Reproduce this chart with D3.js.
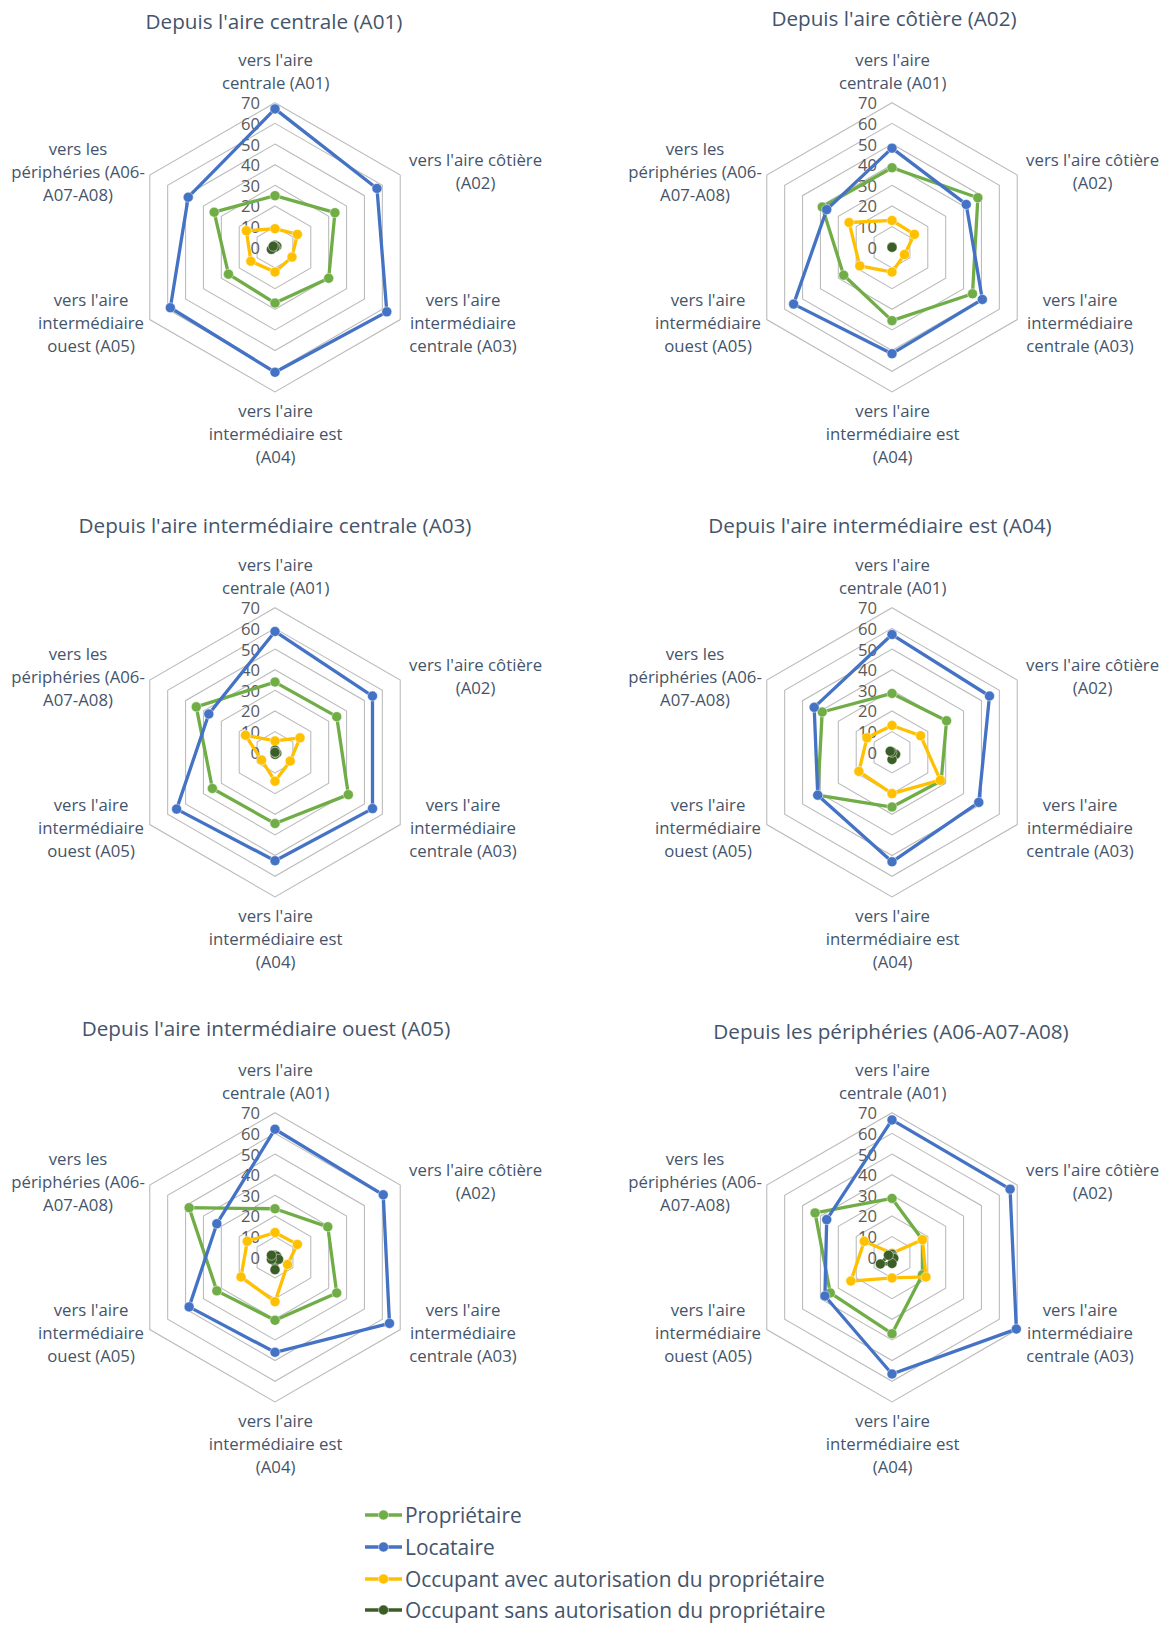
<!DOCTYPE html>
<html><head><meta charset="utf-8">
<script src="https://cdn.jsdelivr.net/npm/d3@7"></script>
<style>body{margin:0;background:#fff}svg{display:block}</style>
</head><body>
<svg id="chart" width="1173" height="1625"></svg>
<script>
// ---------- DATA ----------
const chartTitles = [
  "Depuis l'aire centrale (A01)",
  "Depuis l'aire côtière (A02)",
  "Depuis l'aire intermédiaire centrale (A03)",
  "Depuis l'aire intermédiaire est (A04)",
  "Depuis l'aire intermédiaire ouest (A05)",
  "Depuis les périphéries (A06-A07-A08)"
];
const axisLabels = [
  ["vers l'aire", "centrale (A01)"],
  ["vers l'aire côtière", "(A02)"],
  ["vers l'aire", "intermédiaire", "centrale (A03)"],
  ["vers l'aire", "intermédiaire est", "(A04)"],
  ["vers l'aire", "intermédiaire", "ouest (A05)"],
  ["vers les", "périphéries (A06-", "A07-A08)"]
];
const seriesNames = [
  "Propriétaire",
  "Locataire",
  "Occupant avec autorisation du propriétaire",
  "Occupant sans autorisation du propriétaire"
];
const tickValues = [0, 10, 20, 30, 40, 50, 60, 70];

// values per chart, axes order A01..A06
const proprietaire = [
  [25, 33.5, 30, 27, 26, 34],
  [38.5, 48, 45, 35.5, 27, 39],
  [34, 34.5, 41, 34.5, 35, 44],
  [28.5, 30.5, 27.5, 26.5, 41.5, 39],
  [23.5, 29.5, 34.5, 30.5, 32.5, 48],
  [28.5, 17, 17, 37, 34.5, 43]
];
const locataire = [
  [67, 57, 62.5, 60.5, 58.5, 48.5],
  [48, 41.5, 50.5, 51.5, 55, 36.5],
  [58.5, 54.5, 54.5, 52.5, 55, 37],
  [57, 54.5, 48.5, 53, 41.5, 43.5],
  [62, 60.5, 64, 46, 48, 32.5],
  [66.5, 66, 69.5, 56.5, 37.5, 36.5]
];
const occupantAvec = [
  [9, 12.5, 9.5, 12, 13.5, 16],
  [13, 12.5, 7, 12, 18, 24],
  [5.5, 14, 8.5, 14, 7.5, 16.5],
  [13, 16, 27, 20, 18.5, 14],
  [12, 12.5, 7, 21.5, 19, 15.5],
  [2, 17, 19, 10, 23, 15.5]
];
const occupantSans = [
  [1, 1, 0, 0, 2, 1],
  [0, 0, 0, 0, 0, 0],
  [1, 0, 1, 1, 0, 0],
  [0, 0, 2, 3.5, 0, 1],
  [1, 1, 2, 6, 2, 2],
  [1.5, 0.5, 1, 3, 6.5, 2]
];

// ---------- LAYOUT / STYLE ----------
const seriesColors = ["#70ad47", "#4472c4", "#ffc000", "#3a5e26"];
const allSeries = [proprietaire, locataire, occupantAvec, occupantSans];
const centers = [[275, 247.3], [892, 247.3], [275, 752.3], [892, 752.3], [275, 1257.3], [892, 1257.3]];
const titleOffsets = [[-1, -226.6], [2, -229.7], [0, -227], [-12, -227], [-9, -229], [-1, -226]];
// label block first-line centre offsets (dx, dy)
const labelOffsets = [[0.6, -188.3], [200.6, -87.7], [188, 52.2], [0.6, 163.7], [-184, 52.2], [-197, -99.3]];
const lineH = 23;
const R = 144.6;
const font = "'Open Sans', 'Noto Sans', sans-serif";
const textColor = "#44546a";

const svg = d3.select("#chart");

function fitSize(text, target) {
  const t = svg.append("text").attr("font-family", font).attr("font-size", 100).text(text);
  const w = t.node().getComputedTextLength();
  t.remove();
  return 100 * target / w;
}
const titleSize = fitSize("Depuis l'aire centrale (A01)", 257);
const labelSize = fitSize("vers l'aire côtière", 133);
const legendSize = fitSize("Occupant avec autorisation du propriétaire", 420);
const tickSize = fitSize("70", 19);

const r = d3.scaleLinear().domain([0, 70]).range([0, R]);
const angle = d3.scaleLinear().domain([0, 6]).range([0, 2 * Math.PI]);
const idx = d3.range(6);

centers.forEach((c, ci) => {
  const g = svg.append("g").attr("transform", `translate(${c[0]},${c[1]})`);

  // title
  svg.append("text")
    .attr("x", c[0] + titleOffsets[ci][0]).attr("y", c[1] + titleOffsets[ci][1])
    .attr("text-anchor", "middle").attr("dominant-baseline", "central")
    .attr("font-family", font).attr("font-size", titleSize).attr("fill", textColor)
    .text(chartTitles[ci]);

  // hex gridlines
  const grid = d3.lineRadial().angle(i => angle(i)).curve(d3.curveLinearClosed);
  tickValues.filter(v => v > 0).forEach(v => {
    g.append("path")
      .attr("d", grid.radius(() => r(v))(idx))
      .attr("fill", "none").attr("stroke", "#bcbcbc").attr("stroke-width", 1.1);
  });

  // tick labels
  g.selectAll("text.tick").data(tickValues).join("text")
    .attr("class", "tick")
    .attr("x", -15).attr("y", d => -r(d))
    .attr("text-anchor", "end").attr("dominant-baseline", "central")
    .attr("font-family", font).attr("font-size", tickSize).attr("fill", "#595959")
    .text(d => d);

  // axis labels
  axisLabels.forEach((lines, ai) => {
    const t = g.append("text")
      .attr("text-anchor", "middle")
      .attr("font-family", font).attr("font-size", labelSize).attr("fill", textColor);
    lines.forEach((ln, li) => {
      t.append("tspan")
        .attr("x", labelOffsets[ai][0])
        .attr("y", labelOffsets[ai][1] + li * lineH)
        .attr("dominant-baseline", "central")
        .text(ln);
    });
  });

  // series
  allSeries.forEach((series, si) => {
    const vals = series[ci];
    const line = d3.lineRadial()
      .angle((d, i) => angle(i))
      .radius(d => r(d))
      .curve(d3.curveLinearClosed);
    g.append("path").attr("d", line(vals))
      .attr("fill", "none").attr("stroke", seriesColors[si])
      .attr("stroke-width", 3.3).attr("stroke-linejoin", "round");
    g.selectAll(null).data(vals).join("circle")
      .attr("cx", (d, i) => r(d) * Math.sin(angle(i)))
      .attr("cy", (d, i) => -r(d) * Math.cos(angle(i)))
      .attr("r", 5)
      .attr("fill", seriesColors[si])
      .attr("stroke", "#ffffff").attr("stroke-opacity", 0.6).attr("stroke-width", 0.8);
  });
});

// legend
const legendRows = [1515, 1547, 1579, 1610];
const legend = svg.append("g");
seriesNames.forEach((name, si) => {
  const y = legendRows[si];
  legend.append("line").attr("x1", 365).attr("x2", 402).attr("y1", y).attr("y2", y)
    .attr("stroke", seriesColors[si]).attr("stroke-width", 3.3);
  legend.append("circle").attr("cx", 383.5).attr("cy", y).attr("r", 5)
    .attr("fill", seriesColors[si]).attr("stroke", "#fff").attr("stroke-opacity", 0.6).attr("stroke-width", 0.8);
  legend.append("text").attr("x", 405).attr("y", y)
    .attr("dominant-baseline", "central")
    .attr("font-family", font).attr("font-size", legendSize).attr("fill", textColor)
    .text(name);
});
</script>
</body></html>
